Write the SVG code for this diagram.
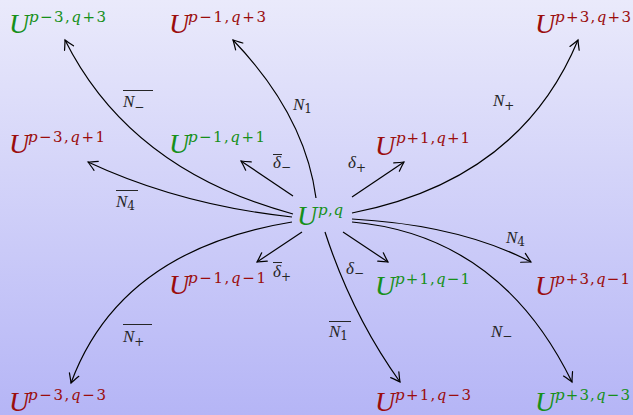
<svg xmlns="http://www.w3.org/2000/svg" width="633" height="415" viewBox="0 0 633 415">
<defs>
<linearGradient id="bg" x1="0" y1="0" x2="0" y2="1">
<stop offset="0" stop-color="#eaeafb"/>
<stop offset="1" stop-color="#b5b5f6"/>
</linearGradient>
<marker id="arr" markerUnits="userSpaceOnUse" markerWidth="14" markerHeight="14" viewBox="-12 -7 14 14" refX="0" refY="0" orient="auto" overflow="visible">
<path d="M-9,-5 Q-3,-1.5 0,0 Q-3,1.5 -9,5" fill="none" stroke="#000" stroke-width="1.2" stroke-linecap="round"/>
</marker>
<style>
.U{font-family:"Liberation Serif",serif;font-style:italic;font-size:28px}
.s{font-family:"DejaVu Serif",serif;font-size:15px}
.i{font-style:italic}
.red{fill:#9b0d0d}
.grn{fill:#17901a}
.e{fill:none;stroke:#000;stroke-width:1.2;marker-end:url(#arr)}
.L{font-family:"Liberation Serif",serif;font-style:italic;font-size:17px;fill:#262626}
.sb{font-family:"DejaVu Serif",serif;font-style:normal;font-size:12px;fill:#262626}
.ov{stroke:#262626;stroke-width:1}
</style>
</defs>
<rect width="633" height="415" fill="url(#bg)"/>
<g id="connectors">
<path class="e" d="M293,214 Q130,170 65,40"/>
<path class="e" d="M316,198 Q305,115 233,40"/>
<path class="e" d="M352,213 Q520,180 578,40"/>
<path class="e" d="M292,217 Q180,205 88,162"/>
<path class="e" d="M293,196 L241,161"/>
<path class="e" d="M352,197 L404,162"/>
<path class="e" d="M292,222 Q120,250 71,383"/>
<path class="e" d="M302,232 L257,262"/>
<path class="e" d="M343,232 L388,262"/>
<path class="e" d="M352,219 Q460,225 531,262"/>
<path class="e" d="M352,222 Q500,235 572,382"/>
<path class="e" d="M325,232 Q352,315 400,382"/>
</g>
<g id="edge-labels">
<g id="lbl-Nbar-minus"><line class="ov" x1="123" y1="90.5" x2="153" y2="90.5"/><text class="L" x="123" y="107">N<tspan class="sb" dy="4">−</tspan></text></g>
<g id="lbl-N1"><text class="L" x="293" y="110">N<tspan class="sb" dy="3">1</tspan></text></g>
<g id="lbl-N-plus"><text class="L" x="493" y="106">N<tspan class="sb" dy="4">+</tspan></text></g>
<g id="lbl-Nbar4"><line class="ov" x1="116" y1="190.5" x2="138" y2="190.5"/><text class="L" x="116" y="207">N<tspan class="sb" dy="3">4</tspan></text></g>
<g id="lbl-dbar-minus"><line class="ov" x1="273" y1="154.5" x2="282" y2="154.5"/><text class="L" x="273" y="168">δ<tspan class="sb" dy="3">−</tspan></text></g>
<g id="lbl-d-plus"><text class="L" x="348" y="168">δ<tspan class="sb" dy="4">+</tspan></text></g>
<g id="lbl-N4"><text class="L" x="506" y="243">N<tspan class="sb" dy="3">4</tspan></text></g>
<g id="lbl-dbar-plus"><line class="ov" x1="273" y1="262.5" x2="282" y2="262.5"/><text class="L" x="273" y="277">δ<tspan class="sb" dy="4">+</tspan></text></g>
<g id="lbl-d-minus"><text class="L" x="346" y="274">δ<tspan class="sb" dy="3">−</tspan></text></g>
<g id="lbl-Nbar-plus"><line class="ov" x1="123" y1="324.5" x2="152" y2="324.5"/><text class="L" x="123" y="342">N<tspan class="sb" dy="4">+</tspan></text></g>
<g id="lbl-Nbar1"><line class="ov" x1="329" y1="321.5" x2="351" y2="321.5"/><text class="L" x="329" y="337">N<tspan class="sb" dy="3">1</tspan></text></g>
<g id="lbl-N-minus"><text class="L" x="491" y="337">N<tspan class="sb" dy="3">−</tspan></text></g>
</g>
<g id="n-m3p3" class="grn"><text class="U" x="9" y="33">U</text><text class="s" x="29" y="22" textLength="77" lengthAdjust="spacing"><tspan class="i">p</tspan>−3,<tspan class="i">q</tspan>+3</text></g>
<g id="n-m1p3" class="red"><text class="U" x="169" y="33">U</text><text class="s" x="188" y="22" textLength="78" lengthAdjust="spacing"><tspan class="i">p</tspan>−1,<tspan class="i">q</tspan>+3</text></g>
<g id="n-p3p3" class="red"><text class="U" x="535" y="33">U</text><text class="s" x="555" y="22" textLength="76" lengthAdjust="spacing"><tspan class="i">p</tspan>+3,<tspan class="i">q</tspan>+3</text></g>
<g id="n-m3p1" class="red"><text class="U" x="9" y="153">U</text><text class="s" x="28" y="142" textLength="77" lengthAdjust="spacing"><tspan class="i">p</tspan>−3,<tspan class="i">q</tspan>+1</text></g>
<g id="n-m1p1" class="grn"><text class="U" x="169" y="153">U</text><text class="s" x="188" y="142" textLength="77" lengthAdjust="spacing"><tspan class="i">p</tspan>−1,<tspan class="i">q</tspan>+1</text></g>
<g id="n-p1p1" class="red"><text class="U" x="375" y="155">U</text><text class="s" x="396" y="143" textLength="74" lengthAdjust="spacing"><tspan class="i">p</tspan>+1,<tspan class="i">q</tspan>+1</text></g>
<g id="n-center" class="grn"><text class="U" x="297" y="225">U</text><text class="s" x="318" y="215" textLength="25" lengthAdjust="spacing"><tspan class="i">p</tspan>,<tspan class="i">q</tspan></text></g>
<g id="n-m1m1" class="red"><text class="U" x="169" y="294">U</text><text class="s" x="188" y="283" textLength="78" lengthAdjust="spacing"><tspan class="i">p</tspan>−1,<tspan class="i">q</tspan>−1</text></g>
<g id="n-p1m1" class="grn"><text class="U" x="375" y="295">U</text><text class="s" x="395" y="284" textLength="75" lengthAdjust="spacing"><tspan class="i">p</tspan>+1,<tspan class="i">q</tspan>−1</text></g>
<g id="n-p3m1" class="red"><text class="U" x="535" y="295">U</text><text class="s" x="555" y="284" textLength="75" lengthAdjust="spacing"><tspan class="i">p</tspan>+3,<tspan class="i">q</tspan>−1</text></g>
<g id="n-m3m3" class="red"><text class="U" x="9" y="411">U</text><text class="s" x="28" y="400" textLength="78" lengthAdjust="spacing"><tspan class="i">p</tspan>−3,<tspan class="i">q</tspan>−3</text></g>
<g id="n-p1m3" class="red"><text class="U" x="375" y="411">U</text><text class="s" x="395" y="400" textLength="76" lengthAdjust="spacing"><tspan class="i">p</tspan>+1,<tspan class="i">q</tspan>−3</text></g>
<g id="n-p3m3" class="grn"><text class="U" x="535" y="411">U</text><text class="s" x="555" y="400" textLength="75" lengthAdjust="spacing"><tspan class="i">p</tspan>+3,<tspan class="i">q</tspan>−3</text></g>
</svg>
